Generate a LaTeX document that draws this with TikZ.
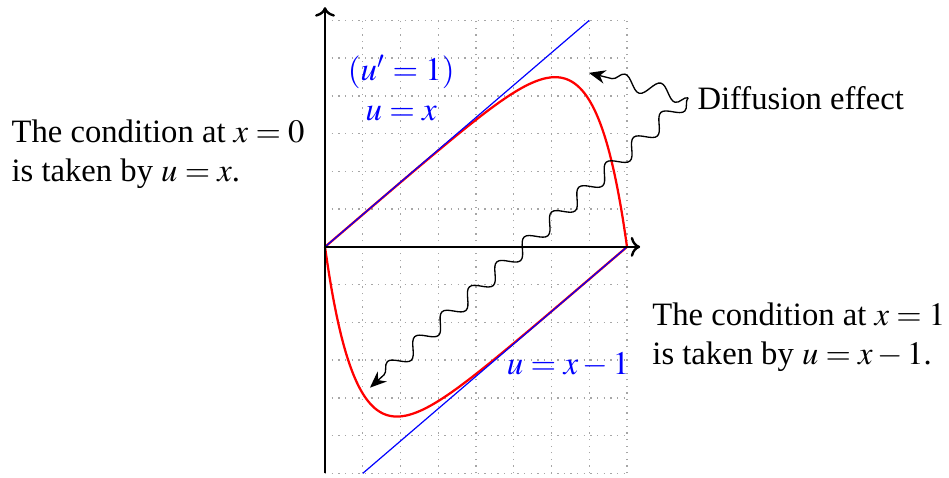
\documentclass[tikz,border=0pt]{standalone}
\usepackage{mathptmx}
\usepackage{fontspec}
\setmainfont{Liberation Serif}
\usetikzlibrary{decorations.pathmorphing,arrows.meta}
\begin{document}
\begin{tikzpicture}[x=0.5cm,y=0.5cm,
  every node/.style={font=\fontsize{12.3}{14.6}\selectfont},
  gridline/.style={gray!70,dotted,line width=0.5pt},
  axisline/.style={->,line width=0.9pt},
  bluel/.style={blue,line width=0.45pt},
  redl/.style={red,line width=0.85pt},
  wavy/.style={decorate,decoration={snake,amplitude=1mm,segment length=4.9mm,post length=1.6mm},-{Stealth[length=2.2mm,width=1.8mm]},line width=0.5pt},
  bluelabel/.style={blue,font=\fontsize{12.4}{15}\selectfont}]
\useasboundingbox (-8.61,-6.12) rectangle (16.53,6.54);
\draw[gridline,step=0.5cm] (0,-6) grid (8,6);
\coordinate (O) at (0,0);
\coordinate (ybot) at (0,-6);
\coordinate (ytop) at (0,6.35);
\coordinate (xend) at (8.35,0);
\coordinate (a1) at (7,6);
\coordinate (b0) at (1,-6);
\coordinate (b1) at (8,0);
\draw[redl] plot[domain=0:8,samples=220,smooth] (\x,{(6/7)*(\x-8*exp((\x-8)/0.85))});
\draw[redl] plot[domain=0:8,samples=220,smooth] (\x,{(6/7)*(\x-8)+(48/7)*exp(-\x/0.85)});
\draw[bluel] (O) -- (a1);
\draw[bluel] (b0) -- (b1);
\draw[axisline] (ybot) -- (ytop);
\draw[axisline] (O) -- (xend);
\node[bluelabel,align=center] (lab1) at (2.02,4.2) {$(u'=1)$\\$u=x$};
\node[bluelabel] (lab2) at (6.44,-3.12) {$u=x-1$};
\node[align=left,anchor=east,inner sep=0pt] (left) at (-0.53,2.45) {The condition at $x=0$\\is taken by $u=x$.};
\node[align=left,anchor=west,inner sep=0pt] (right) at (8.66,-2.4) {The condition at $x=1$\\is taken by $u=x-1$.};
\node[anchor=west] (D) at (9.62,3.95) {Diffusion effect};
\coordinate (t1) at (6.99,4.61);
\coordinate (t2) at (1.19,-3.73);
\draw[wavy] (D.west) -- (t1);
\draw[wavy] (D.west) -- (t2);
\end{tikzpicture}
\end{document}
